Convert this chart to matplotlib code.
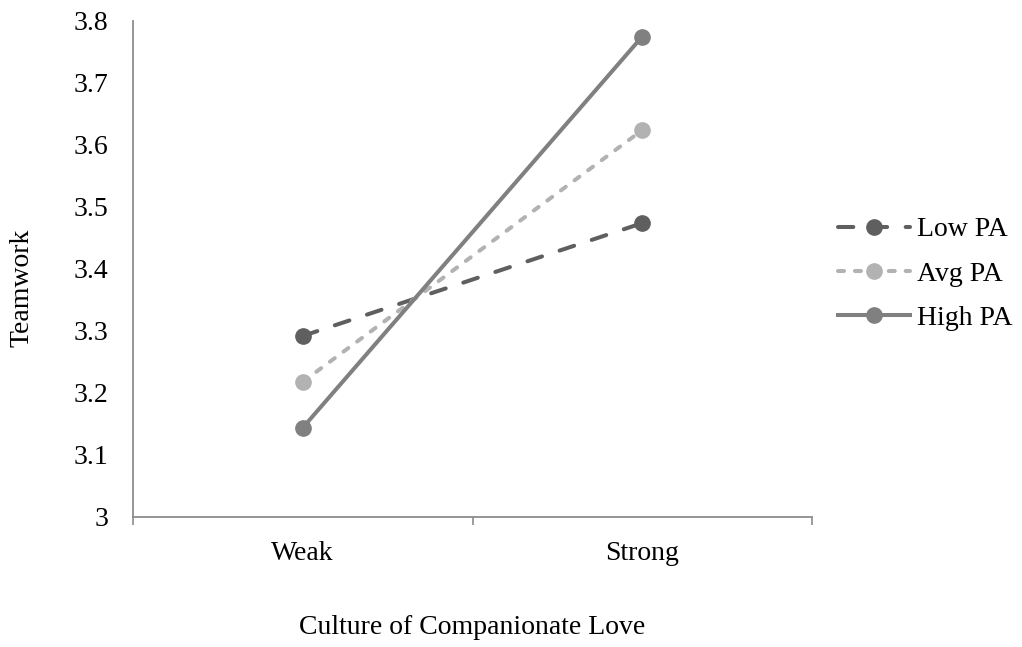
import matplotlib
matplotlib.use('Agg')
from matplotlib import pyplot as plt

plt.rcParams['font.family'] = ['Liberation Serif', 'DejaVu Serif']

categories = ['Weak', 'Strong']
low_pa = [3.292, 3.474]
avg_pa = [3.218, 3.624]
high_pa = [3.144, 3.775]
y_ticks = [3.0, 3.1, 3.2, 3.3, 3.4, 3.5, 3.6, 3.7, 3.8]
y_tick_labels = ['3', '3.1', '3.2', '3.3', '3.4', '3.5', '3.6', '3.7', '3.8']

fig = plt.figure(figsize=(10.22, 6.47), dpi=100)
ax = fig.add_axes([133 / 1022, 1 - 517 / 647, (812 - 133) / 1022, (517 - 21) / 647])

fs = 20
lw = 2.9
ms = 11
ax.plot(categories, low_pa, color='#5f5f5f', lw=lw, ls=(0, (3.8, 4.6)), dash_capstyle='round',
        marker='o', ms=ms, label='Low PA')
ax.plot(categories, avg_pa, color='#b2b2b2', lw=lw, ls=(0, (1.5, 2.7)), dash_capstyle='round',
        marker='o', ms=ms, label='Avg PA')
ax.plot(categories, high_pa, color='#808080', lw=lw, ls='-',
        marker='o', ms=ms, label='High PA')

ax.set_xlim(-0.5, 1.5)
ax.set_ylim(3.0, 3.8)
ax.set_yticks(y_ticks)
ax.set_yticklabels(y_tick_labels)

for s in ['top', 'right']:
    ax.spines[s].set_visible(False)
for s in ['left', 'bottom']:
    ax.spines[s].set_color('#8c8c8c')
    ax.spines[s].set_linewidth(1.3)

ax.set_xticks([-0.5, 0.5, 1.5], minor=True)
ax.tick_params(axis='x', which='minor', length=6, width=1.2, color='#8c8c8c', direction='out')
ax.tick_params(axis='x', which='major', length=0, pad=17, labelsize=fs)
ax.tick_params(axis='y', length=0, pad=18, labelsize=fs)

ax.set_xlabel('Culture of Companionate Love', fontsize=fs)
ax.set_ylabel('Teamwork', fontsize=fs)
ax.xaxis.set_label_coords(0.5, -0.222)
ax.yaxis.set_label_coords(-0.163, 0.462)
ax.yaxis.label.set_va('center')
ax.xaxis.label.set_va('center')

fig.legend(loc='center left', bbox_to_anchor=(838 / 1022, 1 - 274 / 647), frameon=False,
           fontsize=fs, handlelength=2.6, labelspacing=0.68, handletextpad=0.25,
           borderpad=0, borderaxespad=0)

fig.savefig('out.png', dpi=100)
plt.close()
